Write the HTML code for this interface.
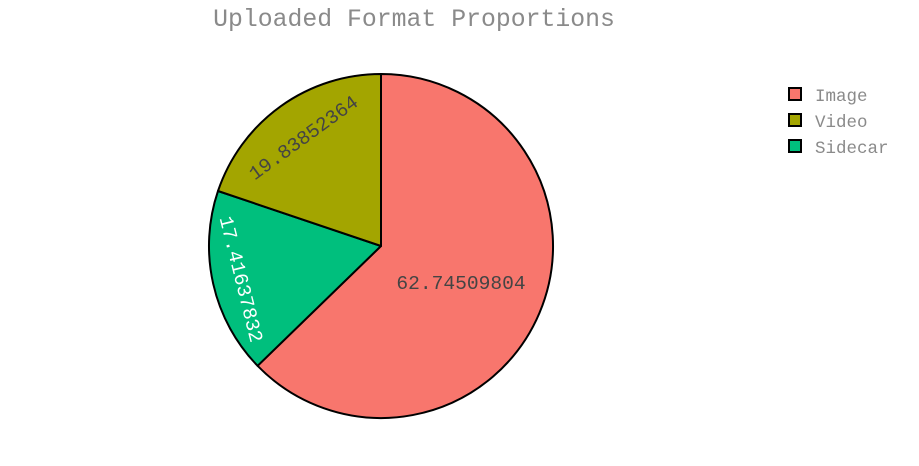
<!DOCTYPE html>
<html><head><meta charset="utf-8"><style>body{margin:0;background:#fff}svg{display:block}</style></head><body>
<svg width="919" height="466" xmlns="http://www.w3.org/2000/svg" font-family="'Liberation Mono', 'Courier New', monospace">
<rect width="919" height="466" fill="#fff"/>
<text x="414" y="26" font-size="24.8" fill="#8a8a8a" text-anchor="middle">Uploaded Format Proportions</text>
<g stroke="#000" stroke-width="2" stroke-linejoin="round">
<path d="M381,246 L381,74 A172,172 0 1 1 257.6,365.8 Z" fill="#f8766d"/>
<path d="M381,246 L257.6,365.8 A172,172 0 0 1 218,191 Z" fill="#00bf7d"/>
<path d="M381,246 L218,191 A172,172 0 0 1 381,74 Z" fill="#a3a500"/>
</g>
<text x="461" y="289" font-size="19.6" fill="#444" text-anchor="middle">62.74509804</text>
<text transform="translate(303,137) rotate(-36)" y="7" font-size="19.6" fill="#444" text-anchor="middle">19.83852364</text>
<text transform="translate(242,279) rotate(76)" y="7" font-size="19.6" fill="#fff" text-anchor="middle">17.41637832</text>
<g stroke="#000" stroke-width="2">
<rect x="789" y="88" width="12" height="12" fill="#f8766d"/>
<rect x="789" y="114" width="12" height="12" fill="#a3a500"/>
<rect x="789" y="140" width="12" height="12" fill="#00bf7d"/>
</g>
<g font-size="17.5" fill="#8a8a8a">
<text x="815" y="101">Image</text>
<text x="815" y="127">Video</text>
<text x="815" y="153">Sidecar</text>
</g>
</svg>
</body></html>
